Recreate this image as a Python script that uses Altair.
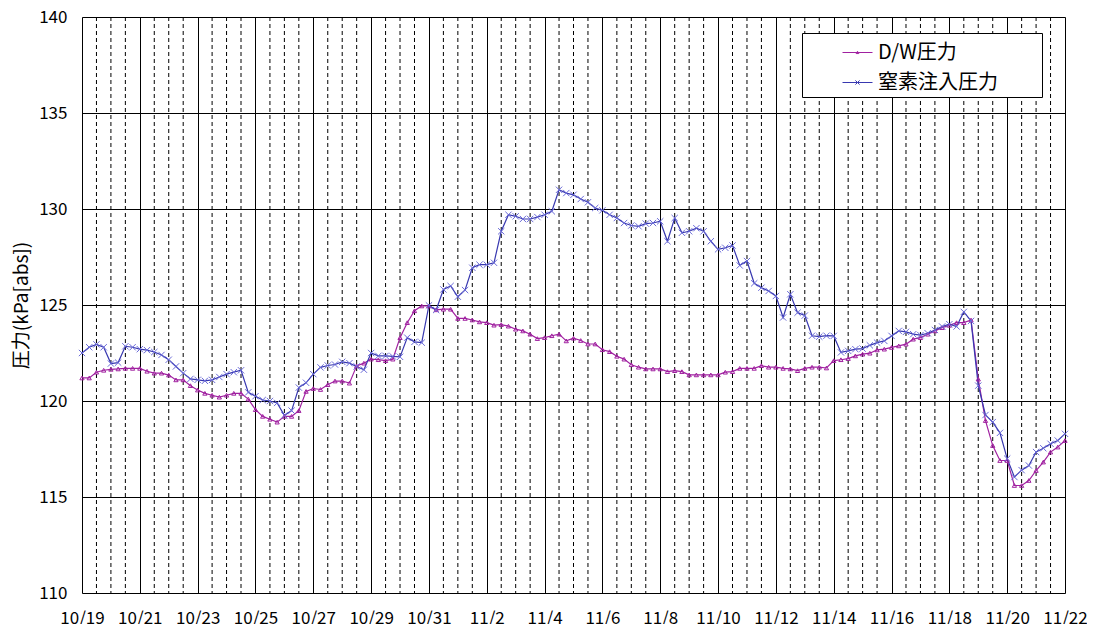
import json
import altair as alt
import pandas as pd

FONT = "Noto Sans CJK JP"
SERIES_NAMES = ["D/W圧力", "窒素注入圧力"]
SERIES_COLORS = ["#A020A0", "#3838B0"]
MARKER_COLORS = ["#A020A0", "#6A6AD8"]
TICK_LABELS = ["10/19", "10/21", "10/23", "10/25", "10/27", "10/29", "10/31",
               "11/2", "11/4", "11/6", "11/8", "11/10", "11/12", "11/14",
               "11/16", "11/18", "11/20", "11/22"]
Y_TICKS = [110, 115, 120, 125, 130, 135, 140]
Y_TITLE = "圧力(kPa[abs])"

# 6-hourly readings from 10/19 0:00 to 11/22 0:00
DW = [
    121.2, 121.2, 121.5, 121.6,
    121.65, 121.67, 121.7, 121.7,
    121.7, 121.55, 121.45, 121.45,
    121.35, 121.1, 121.1, 120.8,
    120.57, 120.4, 120.3, 120.2,
    120.3, 120.4, 120.4, 120.1,
    119.55, 119.2, 119.05, 118.9,
    119.2, 119.2, 119.5, 120.5,
    120.65, 120.6, 120.85, 121.04,
    121.04, 120.93, 121.83, 121.97,
    122.18, 122.15, 122.1, 122.18,
    123.3, 124.08, 124.7, 124.95,
    124.95, 124.75, 124.78, 124.78,
    124.3, 124.3, 124.22, 124.12,
    124.08, 123.95, 123.98, 123.9,
    123.74, 123.65, 123.48, 123.25,
    123.3, 123.4, 123.48, 123.13,
    123.27, 123.15, 122.97, 122.97,
    122.67, 122.57, 122.33, 122.18,
    121.89, 121.76, 121.67, 121.67,
    121.67, 121.53, 121.58, 121.53,
    121.36, 121.36, 121.36, 121.36,
    121.36, 121.5, 121.53, 121.7,
    121.7, 121.7, 121.84, 121.76,
    121.76, 121.7, 121.67, 121.58,
    121.7, 121.76, 121.76, 121.72,
    122.1, 122.15, 122.21, 122.35,
    122.44, 122.49, 122.66, 122.7,
    122.79, 122.87, 122.96, 123.22,
    123.3, 123.48, 123.65, 123.82,
    123.94, 124.08, 124.08, 124.22,
    121.14, 118.98, 117.68, 116.9,
    116.9, 115.6, 115.6, 115.86,
    116.38, 116.82, 117.34, 117.6,
    117.94,
]

N2 = [
    122.5, 122.8, 122.95, 122.8,
    121.95, 122.0, 122.85, 122.8,
    122.7, 122.65, 122.55, 122.4,
    122.15, 121.8, 121.45, 121.15,
    121.1, 121.05, 121.1, 121.25,
    121.4, 121.5, 121.6, 120.45,
    120.25, 120.05, 120.0, 119.9,
    119.25, 119.5, 120.7, 120.95,
    121.4, 121.75, 121.85, 121.9,
    122.04, 121.97, 121.8, 121.63,
    122.5, 122.35, 122.35, 122.32,
    122.3, 123.3, 123.08, 123.04,
    124.98, 124.74, 125.81, 125.99,
    125.43, 125.78, 126.94, 127.1,
    127.1, 127.2, 128.84, 129.7,
    129.62, 129.48, 129.48, 129.58,
    129.7, 129.88, 131.0, 130.83,
    130.74, 130.52, 130.35, 130.05,
    129.93, 129.7, 129.53, 129.27,
    129.14, 129.1, 129.24, 129.27,
    129.36, 128.32, 129.53, 128.76,
    128.84, 129.0, 128.84, 128.32,
    127.9, 127.98, 128.1, 127.06,
    127.29, 126.13, 125.9, 125.73,
    125.47, 124.35, 125.56, 124.6,
    124.45, 123.4, 123.35, 123.4,
    123.39, 122.53, 122.61, 122.7,
    122.73, 122.9, 123.04, 123.13,
    123.39, 123.65, 123.6, 123.48,
    123.43, 123.53, 123.7, 123.88,
    124.0, 123.88, 124.64, 124.17,
    120.8, 119.27, 118.9, 118.34,
    117.0, 116.04, 116.4, 116.64,
    117.34, 117.54, 117.77, 117.94,
    118.29,
]

STEPS_PER_DAY = 4
n = len(DW)
days = [i / STEPS_PER_DAY for i in range(n)]
df = pd.DataFrame({
    "day": days + days,
    "value": DW + N2,
    "series": [SERIES_NAMES[0]] * n + [SERIES_NAMES[1]] * n,
})

total_days = 2 * (len(TICK_LABELS) - 1)
major = [2 * i for i in range(len(TICK_LABELS))]
minor = pd.DataFrame({"day": [h / 2 for h in range(0, 2 * total_days + 1) if h % 4 != 0]})

label_expr = json.dumps(TICK_LABELS) + "[round(datum.value / 2)]"

xscale = alt.Scale(domain=[0, total_days], nice=False, zero=False)
yscale = alt.Scale(domain=[110, 140], nice=False, zero=False)

x_enc = alt.X("day:Q", scale=xscale, axis=alt.Axis(
    values=major, labelExpr=label_expr, title=None, grid=True,
    gridColor="#000000", gridOpacity=1, gridWidth=1, ticks=False, domain=False,
    labelFont=FONT, labelFontSize=17, labelColor="#000000", labelPadding=17,
    labelFlush=False, labelOverlap=False, labelBound=False))
y_enc = alt.Y("value:Q", scale=yscale, axis=alt.Axis(
    values=Y_TICKS, title=Y_TITLE, grid=True, gridColor="#000000", gridOpacity=1,
    gridWidth=1, ticks=False, domain=False, labelFont=FONT, labelFontSize=17,
    labelColor="#000000", labelPadding=15, labelFlush=False,
    titleFont=FONT, titleFontSize=19, titleFontWeight="normal", titleColor="#000000",
    titlePadding=7))

x_plain = alt.X("day:Q", scale=xscale)
y_plain = alt.Y("value:Q", scale=yscale)

minor_rules = alt.Chart(minor).mark_rule(
    color="#000000", strokeWidth=1, strokeDash=[4, 3]
).encode(x=x_plain)

X_PATH = "M-1,-1L1,1M-1,1L1,-1"
LEG_DW = "M-1,0L1,0M-0.09,0.07L0,-0.08L0.09,0.07Z"
LEG_N2 = "M-1,0L1,0M-0.14,-0.14L0.14,0.14M-0.14,0.14L0.14,-0.14"

lines = alt.Chart(df).mark_line(strokeWidth=1.2).encode(
    x=x_enc, y=y_enc,
    color=alt.Color("series:N", scale=alt.Scale(domain=SERIES_NAMES, range=SERIES_COLORS),
                    legend=None),
    detail="series:N",
)

pts_dw = alt.Chart(df).transform_filter(alt.datum.series == SERIES_NAMES[0]).mark_point(
    shape="triangle-up", size=18, filled=False, strokeWidth=1, color=MARKER_COLORS[0], opacity=1
).encode(x=x_plain, y=y_plain)

pts_n2 = alt.Chart(df).transform_filter(alt.datum.series == SERIES_NAMES[1]).mark_point(
    shape=X_PATH, size=40, filled=False, strokeWidth=1, color=MARKER_COLORS[1], opacity=1
).encode(x=x_plain, y=y_plain)

leg = alt.Legend(
    title=None, orient="none", legendX=720, legendY=16,
    fillColor="#FFFFFF", strokeColor="#000000", padding=4,
    symbolSize=900, symbolOffset=36, labelOffset=5, rowPadding=4,
    symbolStrokeWidth=1, symbolOpacity=1, symbolFillColor="transparent",
    labelFont=FONT, labelFontSize=20, labelColor="#000000",
    labelExpr="datum.label + '\u3000\u3000\u200b'")

legend_layer = alt.Chart(df).mark_point(filled=False, opacity=0, strokeWidth=1).encode(
    x=x_plain, y=y_plain,
    color=alt.Color("series:N", scale=alt.Scale(domain=SERIES_NAMES, range=SERIES_COLORS),
                    legend=leg),
    shape=alt.Shape("series:N", scale=alt.Scale(domain=SERIES_NAMES, range=[LEG_DW, LEG_N2]),
                    legend=leg),
)

chart = alt.layer(minor_rules, lines, pts_dw, pts_n2, legend_layer).resolve_scale(
    color="independent", shape="independent"
).properties(
    width=983, height=576,
    autosize=alt.AutoSizeParams(type="none"),
    padding={"left": 74, "top": 9, "right": 22, "bottom": 31},
).configure_view(stroke="#000000", strokeWidth=1).configure(background="#FFFFFF")

chart.save("out.html", embed_options={"renderer": "svg", "actions": False})
